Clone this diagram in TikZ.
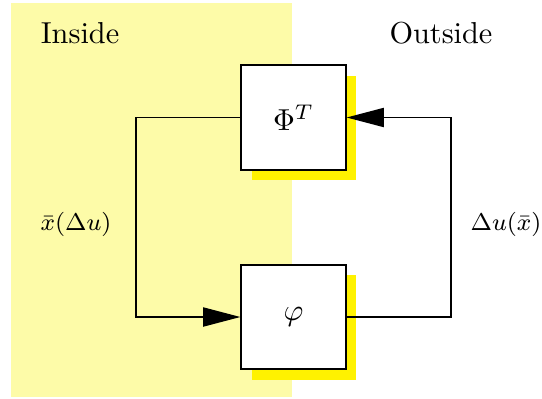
\documentclass[tikz,border=0pt]{standalone}
\usetikzlibrary{arrows.meta,shadows}
\definecolor{insidebg}{RGB}{253,251,168}
\begin{document}
\begin{tikzpicture}[x=0.33pt,y=-0.33pt,
  blockbox/.style={draw=black,line width=0.65pt,fill=white,minimum size=34.4pt,inner sep=0pt,
    drop shadow={shadow xshift=3.5pt,shadow yshift=-3.5pt,fill=yellow,opacity=1}},
  conn/.style={line width=0.55pt},
  tip/.style={-{Triangle[length=12.3pt,width=6.3pt]}},
  lbl/.style={font=\footnotesize,inner sep=0pt}]
\useasboundingbox (0,0) rectangle (542,398);
\fill[insidebg] (11,3) rectangle (292,397);
\node (inside) at (80,33) {Inside};
\node (outside) at (441,33) {Outside};
\node[blockbox] (phit) at (293.5,117.5) {$\Phi^T$};
\node[blockbox] (phi) at (293.5,317) {$\varphi$};
\coordinate (lt) at (136,117.5);
\coordinate (lb) at (136,317);
\coordinate (rb) at (451,317);
\coordinate (rt) at (451,117.5);
\draw[conn,tip] (phit.west) -- (lt) -- (lb) -- (phi.west);
\draw[conn,tip] (phi.east) -- (rb) -- (rt) -- (phit.east);
\node[lbl] (xl) at (76,224) {$\bar{x}(\Delta u)$};
\node[lbl] (ul) at (506,224) {$\Delta u(\bar{x})$};
\end{tikzpicture}
\end{document}
